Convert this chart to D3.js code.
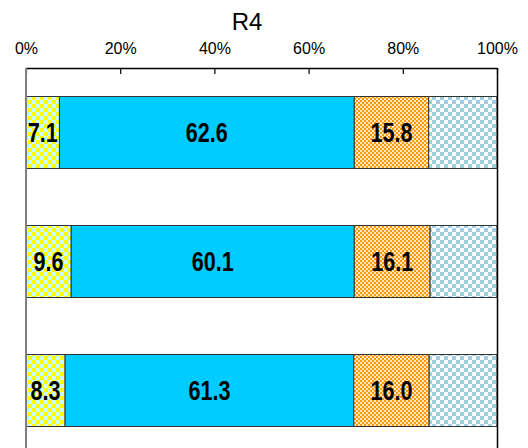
<!DOCTYPE html>
<html>
<head>
<meta charset="utf-8">
<script src="https://cdn.jsdelivr.net/npm/d3@7"></script>
<style>
  html, body { margin: 0; padding: 0; background: #fff; }
  svg { display: block; }
</style>
</head>
<body>
<svg id="chart" width="528" height="448"></svg>
<script>
// ---- data ----
const title = "R4";
const categories = ["row1", "row2", "row3"];
const seriesNames = ["s1", "s2", "s3", "s4"];
const series1 = [7.1, 9.6, 8.3];
const series2 = [62.6, 60.1, 61.3];
const series3 = [15.8, 16.1, 16.0];
const series4 = [14.5, 14.2, 14.4];
const showLabel = [true, true, true, false];
const tickValues = [0, 20, 40, 60, 80, 100];
const tickLabels = ["0%", "20%", "40%", "60%", "80%", "100%"];

const allSeries = [series1, series2, series3, series4];

const svg = d3.select("#chart");
const W = 528, H = 448;
const mLeft = 26, mRight = 497, mTop = 68;

// patterns
const defs = svg.append("defs");
function checker(id, size, c1, c2) {
  const p = defs.append("pattern").attr("id", id).attr("patternUnits", "userSpaceOnUse")
    .attr("width", size * 2).attr("height", size * 2);
  p.append("rect").attr("width", size * 2).attr("height", size * 2).attr("fill", c2);
  p.append("rect").attr("x", 0).attr("y", 0).attr("width", size).attr("height", size).attr("fill", c1);
  p.append("rect").attr("x", size).attr("y", size).attr("width", size).attr("height", size).attr("fill", c1);
}
checker("pYellow", 4, "#FFFF00", "#CCFFFF");
checker("pOrange", 2, "#FF9900", "#FFE6C0");
checker("pBlue", 4, "#9CCFE0", "#FFFFFF");
const fills = ["url(#pYellow)", "#00CCFF", "url(#pOrange)", "url(#pBlue)"];

const x = d3.scaleLinear().domain([0, 100]).range([mLeft, mRight]);
const y = d3.scaleBand().domain(categories.concat(["_r4"]))
  .range([mTop, mTop + 129 * 4]).paddingInner(57 / 129).paddingOuter(57 / 129 / 2);

// stacked data
const rows = categories.map((c, i) => {
  const o = { cat: c };
  seriesNames.forEach((s, j) => o[s] = allSeries[j][i]);
  return o;
});
const stacked = d3.stack().keys(seriesNames)(rows);

// title
svg.append("text").attr("x", 247).attr("y", 30).attr("text-anchor", "middle")
  .attr("font-family", "Liberation Sans, Arial, sans-serif").attr("font-size", 24)
  .attr("fill", "#000").text(title);

// bars
const gBars = svg.append("g");
stacked.forEach((layer, j) => {
  gBars.selectAll(null).data(layer).enter().append("rect")
    .attr("x", d => x(d[0]))
    .attr("y", d => y(d.data.cat))
    .attr("width", d => x(d[1]) - x(d[0]))
    .attr("height", y.bandwidth())
    .attr("fill", fills[j])
    .attr("stroke", "#333")
    .attr("stroke-width", 1);
});

// labels
stacked.forEach((layer, j) => {
  if (!showLabel[j]) return;
  gBars.selectAll(null).data(layer).enter().append("text")
    .attr("transform", d => `translate(${(x(d[0]) + x(d[1])) / 2},${y(d.data.cat) + y.bandwidth() / 2 + 9.5}) scale(0.8,1)`)
    .attr("text-anchor", "middle")
    .attr("font-family", "Liberation Sans, Arial, sans-serif")
    .attr("font-weight", "bold")
    .attr("font-size", 27)
    .attr("fill", "#000")
    .text(d => (d[1] - d[0]).toFixed(1));
});

// frame: top and right black, left gray
svg.append("line").attr("x1", mLeft).attr("x2", mRight).attr("y1", mTop + 0.5).attr("y2", mTop + 0.5)
  .attr("stroke", "#000").attr("stroke-width", 1.5);
svg.append("line").attr("x1", mRight + 0.5).attr("x2", mRight + 0.5).attr("y1", mTop).attr("y2", H)
  .attr("stroke", "#000").attr("stroke-width", 1.5);

// axis on top
const axis = d3.axisTop(x).tickValues(tickValues).tickFormat((d, i) => tickLabels[i]).tickSizeInner(-6).tickSizeOuter(0).tickPadding(0);
const gAx = svg.append("g").attr("transform", `translate(0,${mTop})`).call(axis);
gAx.select(".domain").remove();
gAx.selectAll(".tick line").attr("stroke", "#000").attr("stroke-width", 1.2);
gAx.selectAll(".tick text").attr("y", -14)
  .attr("font-family", "Liberation Sans, Arial, sans-serif").attr("font-size", 17).attr("fill", "#000")
  .attr("transform", "scale(0.94,1)");

svg.append("line").attr("x1", mLeft).attr("x2", mLeft).attr("y1", mTop).attr("y2", H)
  .attr("stroke", "#808080").attr("stroke-width", 2);
</script>
</body>
</html>
